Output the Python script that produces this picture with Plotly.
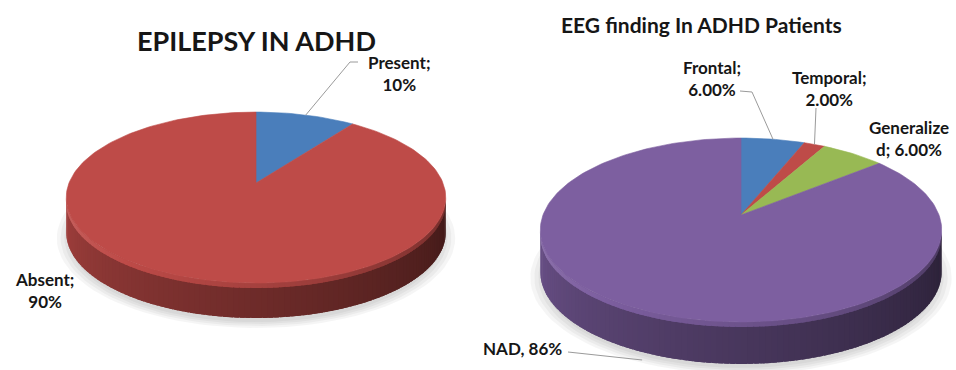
import numpy as np
import plotly.graph_objects as go

# ---------------- data ----------------
epi_labels = ["Present", "Absent"]
epi_values = [10, 90]
epi_text = ["Present;<br>10%", "Absent;<br>90%"]
epi_colors = ["#4A7EBB", "#BE4B48"]

eeg_labels = ["Frontal", "Temporal", "Generalized", "NAD"]
eeg_values = [6, 2, 6, 86]
eeg_text = ["Frontal;<br>6.00%", "Temporal;<br>2.00%", "Generalize<br>d; 6.00%", "NAD, 86%"]
eeg_colors = ["#4A7EBB", "#BE4B48", "#98B954", "#7D5FA0"]

titles = ["EPILEPSY IN ADHD", "EEG finding In ADHD Patients"]

# ---------------- geometry (layout) ----------------
W, H = 956, 370
pie_left = dict(cx=256, cy=183, A=187, B=83, k=0.17, D=35)
pie_right = dict(cx=741, cy=215, A=198, B=89.5, k=0.163, D=42)

fig = go.Figure()


def hex_rgb(h):
    h = h.lstrip("#")
    return [int(h[i:i + 2], 16) for i in (0, 2, 4)]


def shade(h, f):
    r, g, b = hex_rgb(h)
    if f <= 1:
        c = [int(v * f) for v in (r, g, b)]
    else:
        c = [int(v + (255 - v) * (f - 1)) for v in (r, g, b)]
    return "rgb(%d,%d,%d)" % tuple(max(0, min(255, v)) for v in c)


def proj(g, th, drop=0.0):
    th = np.asarray(th, dtype=float)
    X, Z = np.sin(th), np.cos(th)
    d = 1 + g["k"] * Z
    return g["cx"] + g["A"] * X / d, g["cy"] - g["B"] * Z / d + drop


def poly(xs, ys, color, lw=0.0):
    fig.add_trace(go.Scatter(
        x=list(xs), y=list(ys), mode="lines", fill="toself",
        fillcolor=color, line=dict(color=color, width=lw),
        hoverinfo="skip", showlegend=False))


def draw_pie(g, values, colors):
    total = float(sum(values))
    bounds = np.concatenate([[0], np.cumsum(values) / total]) * 2 * np.pi
    D = g["D"]
    # soft shadow under the pie
    tt = np.linspace(0, 2 * np.pi, 120)
    for s in [1.05, 1.03, 1.01, 0.99]:
        gx = dict(g)
        gx["A"] = g["A"] * s
        gx["B"] = g["B"] * s
        sx, sy = proj(gx, tt, D + 5)
        poly(sx, sy, "rgba(0,0,0,0.04)")
    # side (front half) with horizontal gradient, strips overlap to hide seams
    th_r = np.arccos(-g["k"])
    th_l = 2 * np.pi - th_r
    N = 110
    edges = np.linspace(th_r, th_l, N + 1)
    step = edges[1] - edges[0]
    for i in range(N):
        a, b = edges[i], min(edges[i + 1] + 0.8 * step, th_l)
        mid = 0.5 * (edges[i] + edges[i + 1])
        idx = int(np.searchsorted(bounds, mid, side="right") - 1)
        idx = min(max(idx, 0), len(values) - 1)
        u = (th_l - mid) / (th_l - th_r)  # 0 at left, 1 at right
        f = 0.86 - 0.52 * u ** 0.9
        ts = np.linspace(a, b, 4)
        x1, y1 = proj(g, ts, 0)
        x2, y2 = proj(g, ts[::-1], D)
        poly(np.r_[x1, x2], np.r_[y1, y2], shade(colors[idx], f))
    for i in range(N):
        a, b = edges[i], min(edges[i + 1] + 0.8 * step, th_l)
        mid = 0.5 * (edges[i] + edges[i + 1])
        idx = int(np.searchsorted(bounds, mid, side="right") - 1)
        idx = min(max(idx, 0), len(values) - 1)
        u = (th_l - mid) / (th_l - th_r)
        fb = 1.15 - 0.55 * u
        ts = np.linspace(a, b, 4)
        x1, y1 = proj(g, ts, 0)
        bx, by = proj(g, ts[::-1], 5)
        poly(np.r_[x1, bx], np.r_[y1, by], shade(colors[idx], fb))
    # top face slices
    for i, c in enumerate(colors):
        ts = np.linspace(bounds[i], bounds[i + 1], max(8, int(240 * values[i] / total)))
        ax, ay = proj(g, ts)
        poly(np.r_[g["cx"], ax, g["cx"]], np.r_[g["cy"], ay, g["cy"]], c, lw=0.6)
    return bounds


def anchor(g, bounds, i, front=False):
    m = 0.5 * (bounds[i] + bounds[i + 1])
    x, y = proj(g, m, g["D"] if front else 0)
    return float(x), float(y)


def leader(pts):
    xs, ys = zip(*pts)
    fig.add_trace(go.Scatter(x=xs, y=ys, mode="lines",
                             line=dict(color="#9a9a9a", width=1),
                             hoverinfo="skip", showlegend=False))


b_epi = draw_pie(pie_left, epi_values, epi_colors)
b_eeg = draw_pie(pie_right, eeg_values, eeg_colors)

# leader lines (label end = layout, slice end = from data)
leader([(358, 62), (350, 62), anchor(pie_left, b_epi, 0)])
leader([(740, 91), (752, 92), anchor(pie_right, b_eeg, 0)])
leader([(816, 108), anchor(pie_right, b_eeg, 1)])
ax_, ay_ = anchor(pie_right, b_eeg, 3, front=True)
leader([(568, 352), (ax_, ay_ + 8)])

# ---------------- text ----------------
FONT = "Lato, 'Open Sans', sans-serif"
TXT = "#161616"
ann = []
ann.append(dict(x=256, y=40, text="<b>%s</b>" % titles[0], font=dict(size=27, color=TXT, family=FONT)))
ann.append(dict(x=701, y=24, text="<b>%s</b>" % titles[1], font=dict(size=21, color=TXT, family=FONT)))

lab_pos_epi = [(399, 73), (44, 290)]
for t, (x, y) in zip(epi_text, lab_pos_epi):
    ann.append(dict(x=x, y=y, text="<b>%s</b>" % t, font=dict(size=17, color=TXT, family=FONT)))
lab_pos_eeg = [(712, 78), (829, 88), (909, 138), (522, 348)]
for t, (x, y) in zip(eeg_text, lab_pos_eeg):
    ann.append(dict(x=x, y=y, text="<b>%s</b>" % t, font=dict(size=17, color=TXT, family=FONT)))

for a in ann:
    a.update(xref="x", yref="y", showarrow=False, xanchor="center", yanchor="middle", align="center")

fig.update_layout(
    width=W, height=H, margin=dict(l=0, r=0, t=0, b=0),
    paper_bgcolor="white", plot_bgcolor="white",
    xaxis=dict(range=[0, W], visible=False, fixedrange=True),
    yaxis=dict(range=[H, 0], visible=False, fixedrange=True),
    annotations=ann, showlegend=False,
)

fig.write_html("out.html")
